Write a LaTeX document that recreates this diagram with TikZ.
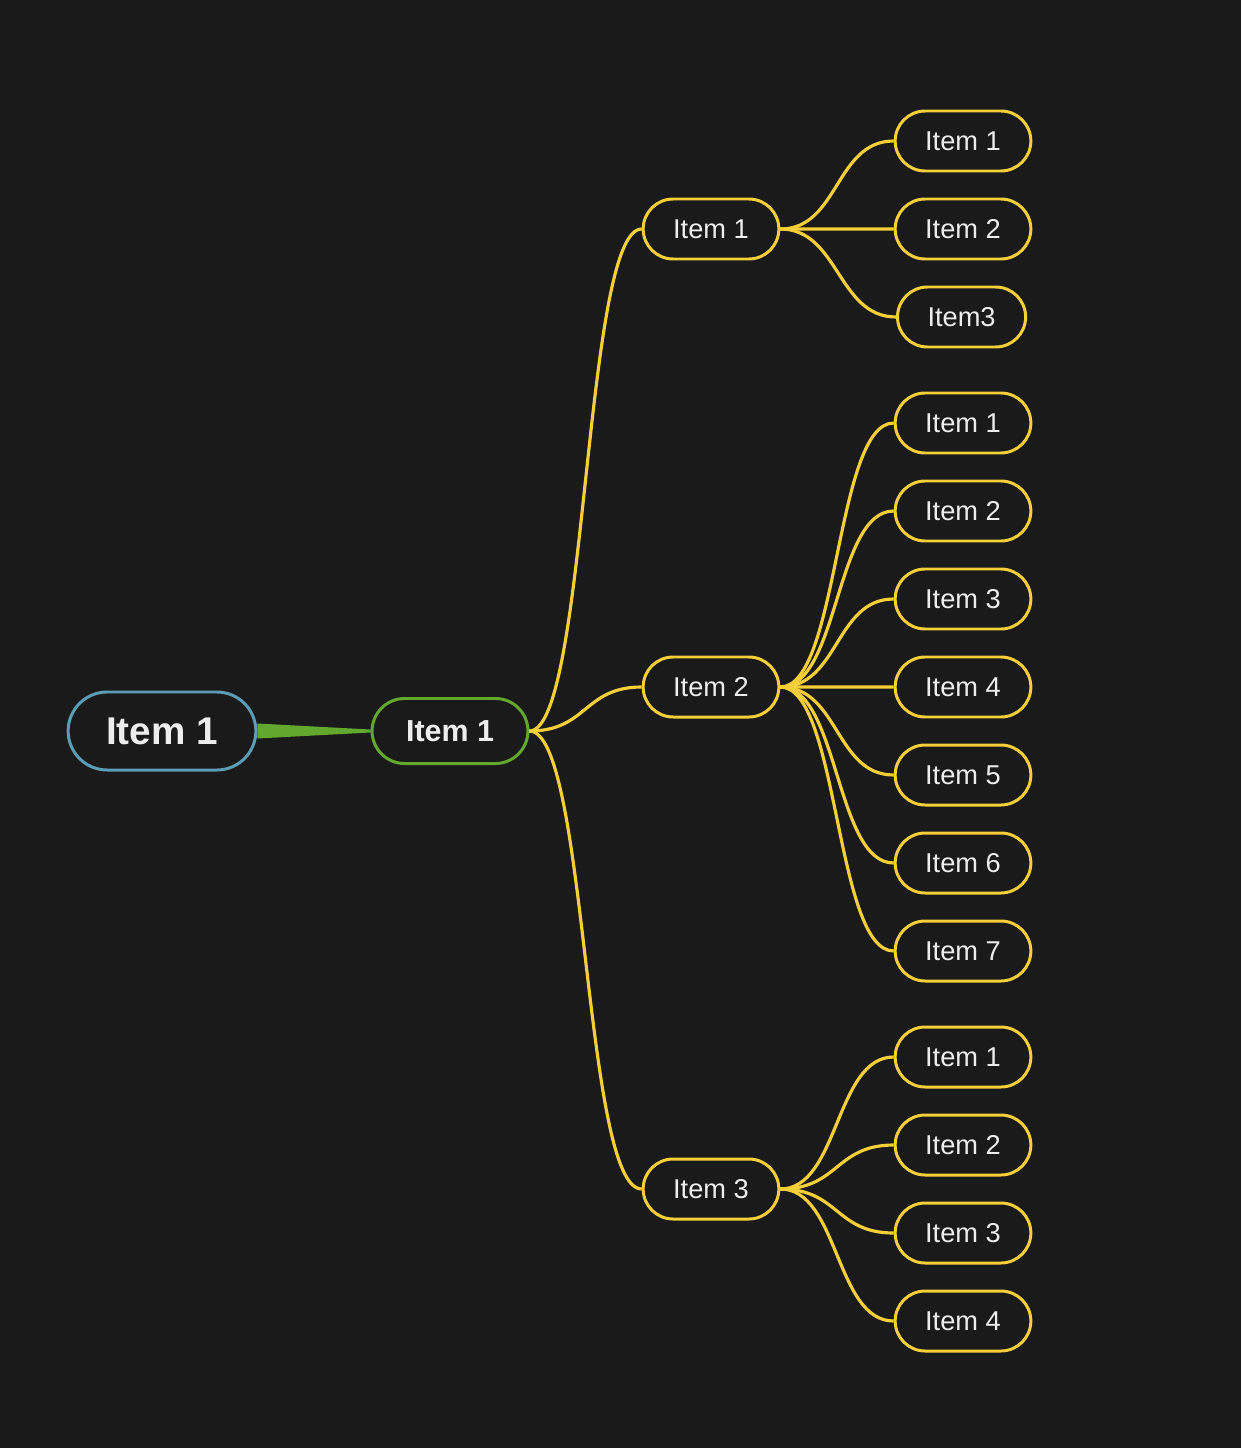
\documentclass[tikz,border=0pt]{standalone}
\usepackage{fontspec}
\setmainfont{Liberation Sans}
\definecolor{bgdark}{HTML}{1A1A1A}
\definecolor{itemtext}{HTML}{EDEDED}
\definecolor{rootblue}{HTML}{5A9DB5}
\definecolor{maingreen}{HTML}{62A82E}
\definecolor{subyellow}{HTML}{F5CF3A}

\begin{document}
\begin{tikzpicture}[node distance=1.76cm,
  every node/.style={text=itemtext, line width=1.7pt, minimum height=1.2cm, rounded corners=0.6cm, inner xsep=0.6cm, font=\fontsize{15.5}{18}\selectfont},
  rootbox/.style={draw=rootblue, minimum height=1.56cm, rounded corners=0.78cm, inner xsep=0.76cm, font=\bfseries\fontsize{22}{26}\selectfont},
  mainbox/.style={draw=maingreen, minimum height=1.3cm, rounded corners=0.65cm, inner xsep=0.68cm, font=\bfseries\fontsize{17.3}{20}\selectfont},
  itembox/.style={draw=subyellow},
  branch/.style={draw=subyellow, line width=1.8pt}]
\fill[bgdark] (0,0) rectangle (24.82,-28.96);
\useasboundingbox (0,0) rectangle (24.82,-28.96);

% Nodes
\node[rootbox] (root) at (3.24,-14.62) {Item 1};
\node[mainbox] (main) at (9.00,-14.62) {Item 1};

\node[itembox] (a) at (14.22,-4.58) {Item 1};
\node[itembox] (b) at (14.22,-13.74) {Item 2};
\node[itembox] (c) at (14.22,-23.78) {Item 3};

\node[itembox] (a1) at (19.26,-2.82) {Item 1};
\node[itembox, below of=a1] (a2) {Item 2};
\node[itembox, anchor=west] (a3) at (17.92,-6.34) {Item3};

\node[itembox] (b1) at (19.26,-8.46) {Item 1};
\node[itembox, below of=b1] (b2) {Item 2};
\node[itembox, below of=b2] (b3) {Item 3};
\node[itembox, below of=b3] (b4) {Item 4};
\node[itembox, below of=b4] (b5) {Item 5};
\node[itembox, below of=b5] (b6) {Item 6};
\node[itembox, below of=b6] (b7) {Item 7};

\node[itembox] (c1) at (19.26,-21.14) {Item 1};
\node[itembox, below of=c1] (c2) {Item 2};
\node[itembox, below of=c2] (c3) {Item 3};
\node[itembox, below of=c3] (c4) {Item 4};

% Arrows
\fill[maingreen] ([yshift=0.15cm]root.east) -- ([yshift=0.03cm]main.west)
  -- ([yshift=-0.03cm]main.west) -- ([yshift=-0.15cm]root.east) -- cycle;

\draw[branch] (main.east) .. controls +(1.16,0) and +(-1.16,0) .. (a.west);
\draw[branch] (main.east) .. controls +(1.16,0) and +(-1.16,0) .. (b.west);
\draw[branch] (main.east) .. controls +(1.16,0) and +(-1.16,0) .. (c.west);

\draw[branch] (a.east) .. controls +(1.17,0) and +(-1.17,0) .. (a1.west);
\draw[branch] (a.east) -- (a2.west);
\draw[branch] (a.east) .. controls +(1.17,0) and +(-1.17,0) .. (a3.west);

\draw[branch] (b.east) .. controls +(1.17,0) and +(-1.17,0) .. (b1.west);
\draw[branch] (b.east) .. controls +(1.17,0) and +(-1.17,0) .. (b2.west);
\draw[branch] (b.east) .. controls +(1.17,0) and +(-1.17,0) .. (b3.west);
\draw[branch] (b.east) -- (b4.west);
\draw[branch] (b.east) .. controls +(1.17,0) and +(-1.17,0) .. (b5.west);
\draw[branch] (b.east) .. controls +(1.17,0) and +(-1.17,0) .. (b6.west);
\draw[branch] (b.east) .. controls +(1.17,0) and +(-1.17,0) .. (b7.west);

\draw[branch] (c.east) .. controls +(1.17,0) and +(-1.17,0) .. (c1.west);
\draw[branch] (c.east) .. controls +(1.17,0) and +(-1.17,0) .. (c2.west);
\draw[branch] (c.east) .. controls +(1.17,0) and +(-1.17,0) .. (c3.west);
\draw[branch] (c.east) .. controls +(1.17,0) and +(-1.17,0) .. (c4.west);

\end{tikzpicture}
\end{document}
